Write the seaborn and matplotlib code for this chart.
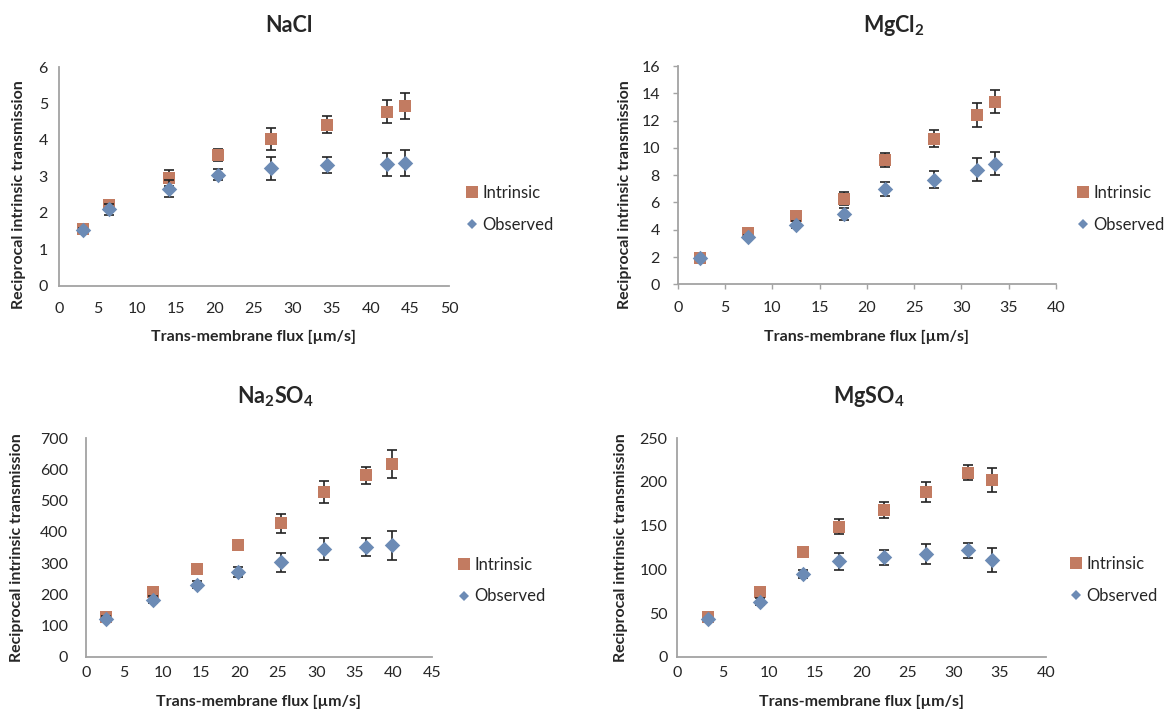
import matplotlib
matplotlib.use("Agg")
import matplotlib.pyplot as plt
from matplotlib.lines import Line2D
import numpy as np
import pandas as pd
import seaborn as sns

# ---------------- data ----------------
series_names = ["Intrinsic", "Observed"]
titles = ["NaCl", "MgCl$_2$", "Na$_2$SO$_4$", "MgSO$_4$"]
x_label = "Trans-membrane flux [\u00b5m/s]"
y_label = "Reciprocal intrinsic transmission"

flux_nacl = [3.1, 6.4, 14.1, 20.4, 27.2, 34.3, 42.1, 44.4]
int_nacl = [1.55, 2.22, 2.95, 3.58, 4.03, 4.42, 4.77, 4.92]
int_err_nacl = [0.06, 0.12, 0.22, 0.17, 0.31, 0.23, 0.32, 0.36]
obs_nacl = [1.53, 2.10, 2.66, 3.05, 3.22, 3.31, 3.33, 3.36]
obs_err_nacl = [0.05, 0.15, 0.24, 0.16, 0.31, 0.23, 0.32, 0.36]

flux_mgcl2 = [2.4, 7.4, 12.5, 17.6, 21.9, 27.1, 31.6, 33.5]
int_mgcl2 = [1.95, 3.78, 4.98, 6.28, 9.11, 10.68, 12.39, 13.39]
int_err_mgcl2 = [0.10, 0.15, 0.15, 0.46, 0.49, 0.60, 0.87, 0.86]
obs_mgcl2 = [1.93, 3.49, 4.37, 5.13, 6.96, 7.67, 8.40, 8.84]
obs_err_mgcl2 = [0.10, 0.15, 0.25, 0.44, 0.51, 0.60, 0.86, 0.85]

flux_na2so4 = [2.7, 8.8, 14.5, 19.8, 25.4, 31.0, 36.4, 39.9]
int_na2so4 = [128, 206, 280, 357, 428, 529, 581, 618]
int_err_na2so4 = [5, 8, 8, 12, 30, 35, 27, 46]
obs_na2so4 = [121, 183, 231, 271, 302, 346, 352, 357]
obs_err_na2so4 = [8, 12, 12, 17, 31, 36, 28, 46]

flux_mgso4 = [3.4, 9.0, 13.7, 17.6, 22.5, 27.0, 31.6, 34.2]
int_mgso4 = [45.8, 74, 120, 149, 168, 188.5, 210.6, 201.9]
int_err_mgso4 = [2, 3, 3, 9, 9, 11.6, 8.6, 13.7]
obs_mgso4 = [42.8, 63, 94.7, 109, 114, 118, 121.8, 111]
obs_err_mgso4 = [2, 4, 5, 10, 8.6, 11.5, 8.4, 14]

x_limits = [(0, 50), (0, 40), (0, 45), (0, 40)]
y_limits = [(0, 6), (0, 16), (0, 700), (0, 250)]
x_steps = [5, 5, 5, 5]
y_steps = [1, 2, 100, 50]

# ---------------- style ----------------
sns.set_theme(style="white")
plt.rcParams["font.family"] = ["Lato", "DejaVu Sans"]
plt.rcParams["mathtext.fontset"] = "custom"
plt.rcParams["mathtext.rm"] = "Lato:bold"
plt.rcParams["mathtext.it"] = "Lato:bold"
plt.rcParams["mathtext.bf"] = "Lato:bold"

C_INT = "#C27B61"
C_OBS = "#6C8BB5"
C_ERR = "#222222"
C_AX = "#A3A3A3"
C_TXT = "#262626"

W, H = 1164, 710
fig = plt.figure(figsize=(W / 100, H / 100), dpi=100)

# axes rectangles in pixels: left, right, top, bottom
rects_px = [(59, 449, 67, 285.7), (677.7, 1056, 66, 284.3),
            (85.7, 431.7, 438.3, 656.7), (676.7, 1046, 438.3, 656.7)]
title_pos = [(289, 32), (894, 32), (275, 403), (869, 403)]
xlabel_y = [-0.2346, -0.2414, -0.206, -0.206]
ylabel_xy = [(-0.1026, 0.415), (-0.139, 0.409), (-0.1986, 0.5), (-0.151, 0.5)]
legend_pos = [(471, 209), (1082, 209), (463, 580.5), (1075, 580)]
tick_pads = [(11.5, 8.0), (8.6, 9.2), (6.5, 12.5), (6.5, 6.5)]
tick_len = [0, 3.6, 0, 0]

datasets = [
    (flux_nacl, int_nacl, int_err_nacl, obs_nacl, obs_err_nacl),
    (flux_mgcl2, int_mgcl2, int_err_mgcl2, obs_mgcl2, obs_err_mgcl2),
    (flux_na2so4, int_na2so4, int_err_na2so4, obs_na2so4, obs_err_na2so4),
    (flux_mgso4, int_mgso4, int_err_mgso4, obs_mgso4, obs_err_mgso4),
]

for i, (flux, iv, ie, ov, oe) in enumerate(datasets):
    l, r, t, b = rects_px[i]
    ax = fig.add_axes([l / W, 1 - b / H, (r - l) / W, (b - t) / H])

    df_i = pd.DataFrame({"flux": flux, "val": iv, "err": ie})
    df_o = pd.DataFrame({"flux": flux, "val": ov, "err": oe})

    ax.errorbar(df_i["flux"], df_i["val"], yerr=df_i["err"], fmt="none",
                ecolor=C_ERR, elinewidth=1.2, capsize=3.5, capthick=1.2, zorder=2)
    sns.scatterplot(data=df_i, x="flux", y="val", marker="s", s=72, color=C_INT,
                    linewidth=0, ax=ax, zorder=3, legend=False)
    ax.errorbar(df_o["flux"], df_o["val"], yerr=df_o["err"], fmt="none",
                ecolor=C_ERR, elinewidth=1.2, capsize=3.5, capthick=1.2, zorder=4)
    sns.scatterplot(data=df_o, x="flux", y="val", marker="D", s=62, color=C_OBS,
                    linewidth=0, ax=ax, zorder=5, legend=False)

    ax.set_xlim(*x_limits[i])
    ax.set_ylim(*y_limits[i])
    ax.set_xticks(np.arange(x_limits[i][0], x_limits[i][1] + 0.001, x_steps[i]))
    ax.set_yticks(np.arange(y_limits[i][0], y_limits[i][1] + 0.001, y_steps[i]))
    ax.set_xticklabels([f"{v:g}" for v in ax.get_xticks()])
    ax.set_yticklabels([f"{v:g}" for v in ax.get_yticks()])

    sns.despine(ax=ax)
    for sp in ("left", "bottom"):
        ax.spines[sp].set_color(C_AX)
        ax.spines[sp].set_linewidth(1.3)

    ax.tick_params(axis="x", length=tick_len[i], width=1.0, color=C_AX,
                   pad=tick_pads[i][0], labelsize=11.5, labelcolor=C_TXT,
                   direction="out", bottom=True)
    ax.tick_params(axis="y", length=tick_len[i], width=1.0, color=C_AX,
                   pad=tick_pads[i][1], labelsize=11.5, labelcolor=C_TXT,
                   direction="out", left=True)

    ax.set_xlabel(x_label, fontsize=11.5, fontweight="bold", color=C_TXT, va="center")
    ax.xaxis.set_label_coords(0.5, xlabel_y[i])
    ax.set_ylabel(y_label, fontsize=11.5, fontweight="bold", color=C_TXT, va="center")
    ax.yaxis.set_label_coords(*ylabel_xy[i])

    tx, ty = title_pos[i]
    fig.text(tx / W, 1 - ty / H, titles[i], ha="center", va="baseline",
             fontsize=15.5, fontweight="bold", color=C_TXT)

    handles = [
        Line2D([], [], marker="s", ls="", color=C_INT, markersize=8.3, markeredgewidth=0),
        Line2D([], [], marker="D", ls="", color=C_OBS, markersize=5.6, markeredgewidth=0),
    ]
    mx, my = legend_pos[i]
    fig.legend(handles, series_names, loc="center left",
               bbox_to_anchor=((mx - 6) / W, 1 - my / H), frameon=False,
               borderpad=0, borderaxespad=0, handlelength=0.8, handletextpad=0.25,
               labelspacing=0.95, fontsize=12, labelcolor=C_TXT)

fig.savefig("out.png", dpi=100)
